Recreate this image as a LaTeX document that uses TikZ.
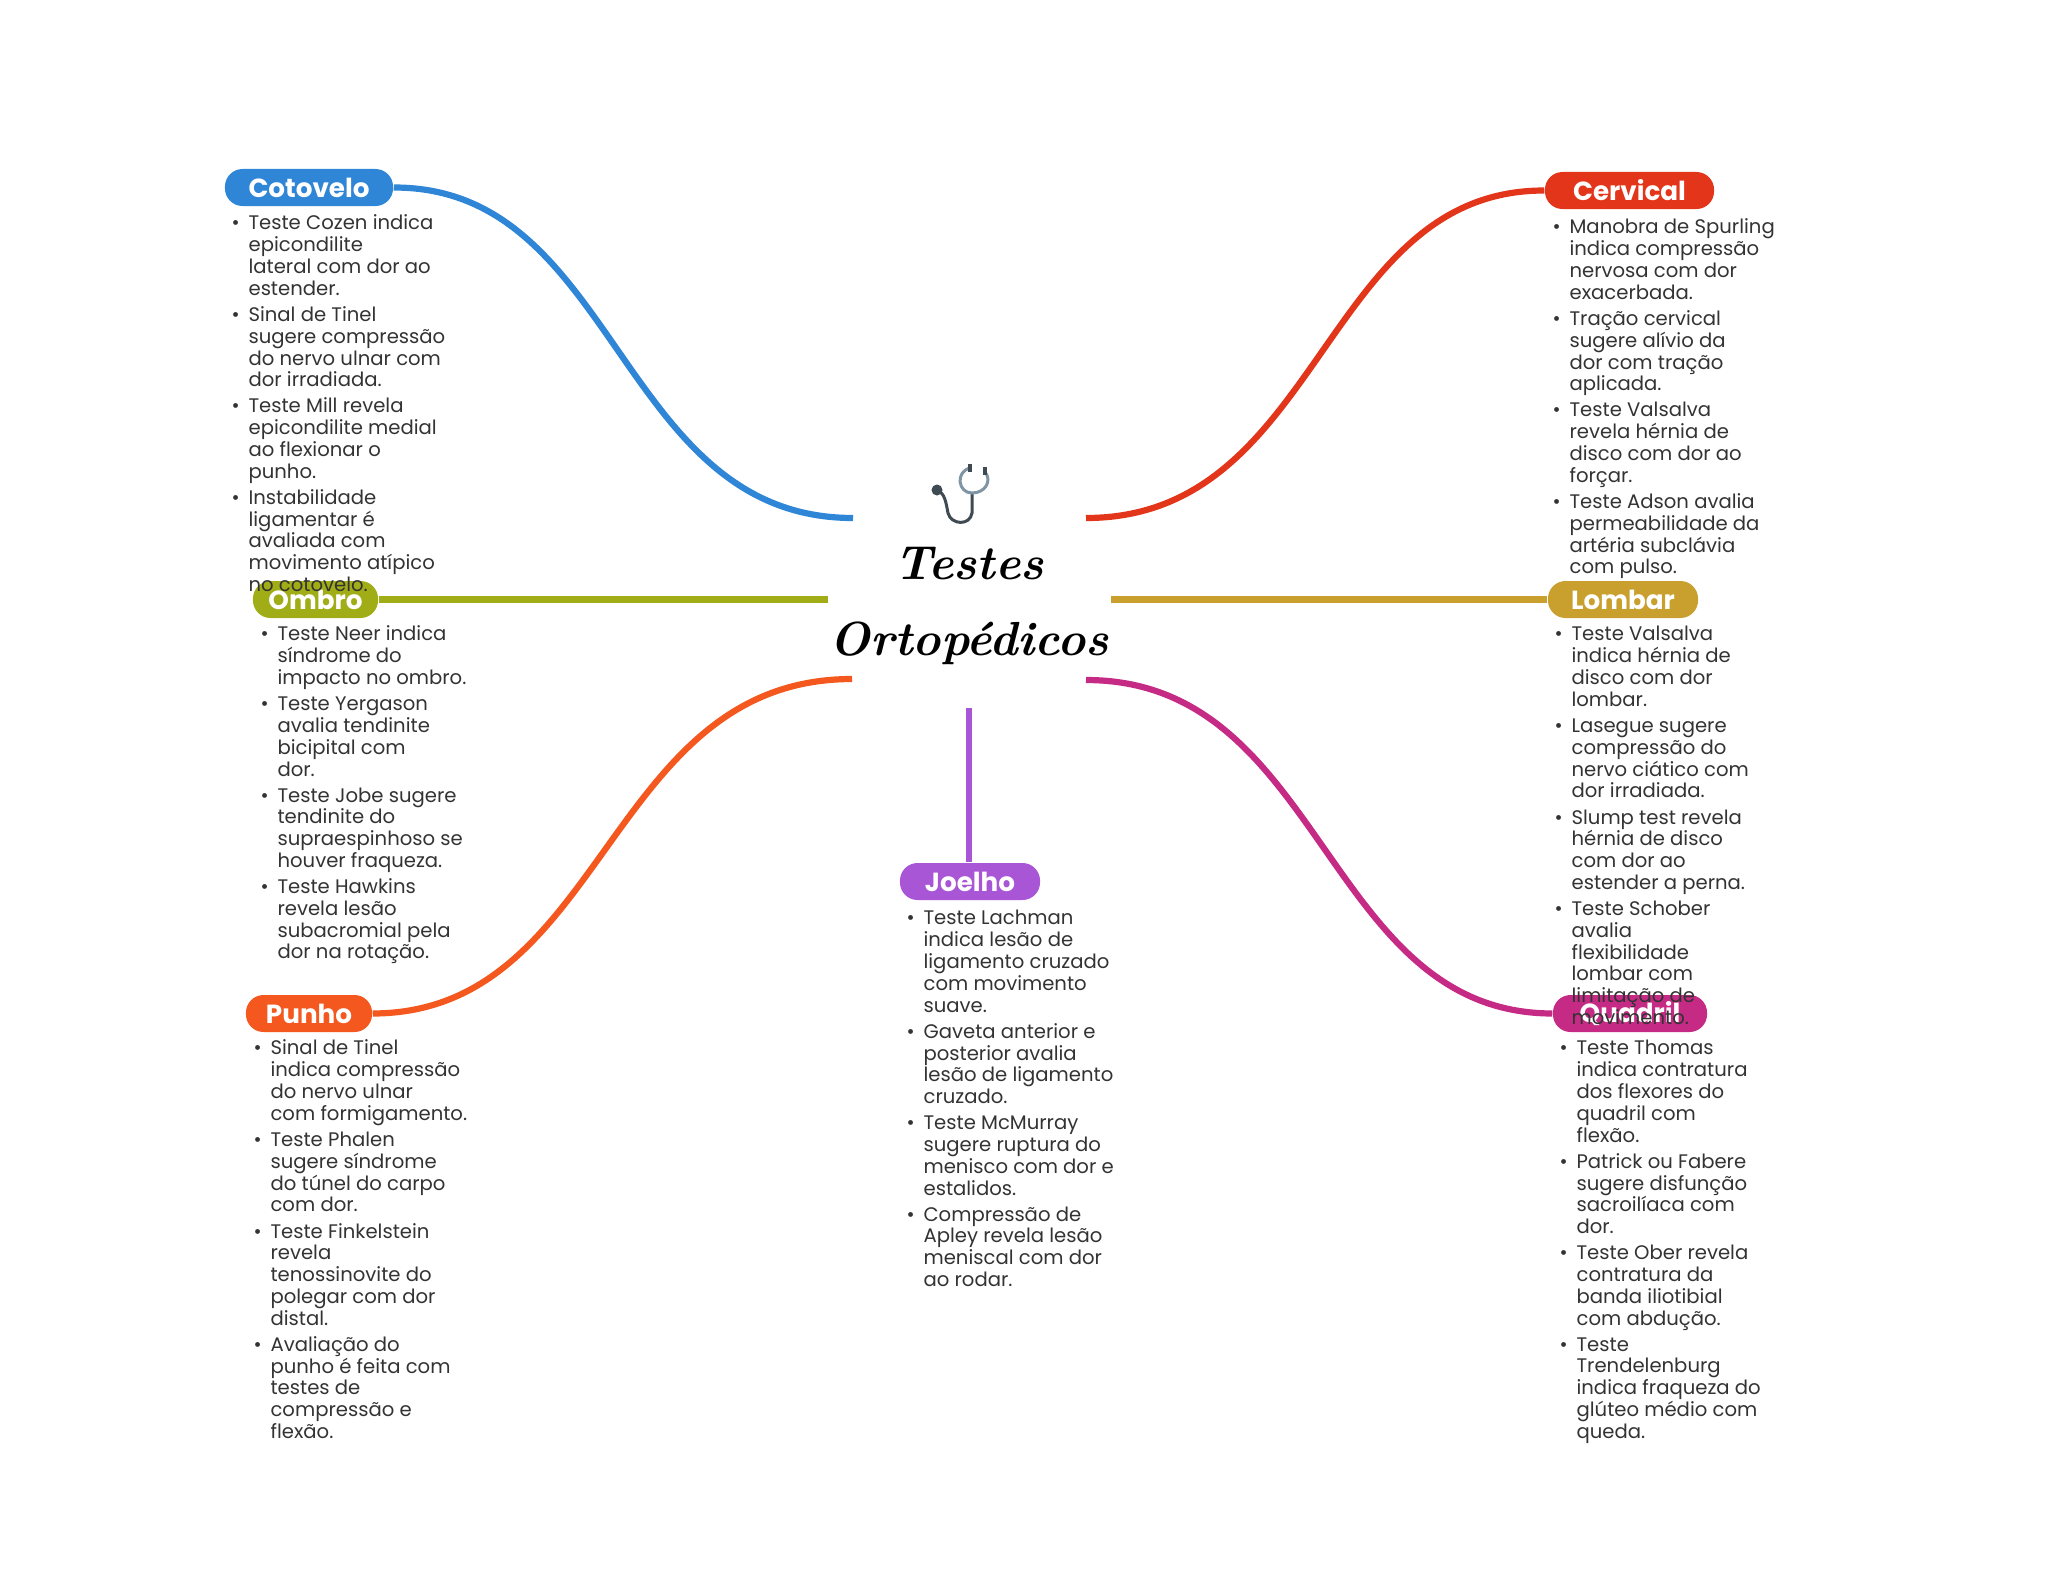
\documentclass[tikz,border=0pt]{standalone}
\usepackage{fontspec}
\newfontfamily\popfont{Poppins}
\usetikzlibrary{positioning}
\definecolor{cotovelocol}{HTML}{2F86D6}
\definecolor{cervicalcol}{HTML}{E2351A}
\definecolor{ombrocol}{HTML}{A0AD17}
\definecolor{lombarcol}{HTML}{C9A02E}
\definecolor{punhocol}{HTML}{F4581E}
\definecolor{quadrilcol}{HTML}{C52A85}
\definecolor{joelhocol}{HTML}{A855D6}
\definecolor{notecol}{HTML}{333333}
\definecolor{tubecol}{HTML}{3F4A52}
\definecolor{loopcol}{HTML}{7F95A3}
\setlength{\lineskip}{0pt}
\newcommand{\itemgap}{1.2pt}
\newcommand{\noteitem}[1]{\makebox[4.8pt][l]{\textbullet}\begin{tabular}[t]{@{}l@{}}#1\end{tabular}}
\tikzset{
  pill/.style={fill=#1, text=white, rounded corners=5pt, minimum height=0.37cm,
    inner sep=0pt, font=\popfont\fontsize{7.45}{9}\selectfont\bfseries},
  branch/.style={draw=#1, line width=0.062cm},
  notes/.style={anchor=north west, inner sep=0pt, align=left, text=notecol,
    font=\popfont\fontsize{5.58}{6.2}\selectfont},
}
\begin{document}
\begin{tikzpicture}[x=0.01cm, y=-0.01cm]
  \useasboundingbox (0,0) rectangle (2048,1569);
  % Free ends of the branches, round the title
  \coordinate (cotoveloend) at (853,518);
  \coordinate (cervicalend) at (1086,518);
  \coordinate (ombroend) at (828,599.5);
  \coordinate (lombarend) at (1111,599.5);
  \coordinate (punhoend) at (852,679);
  \coordinate (quadrilend) at (1086,680);
  \coordinate (joelhoend) at (969,708);
  % Labels on the branches
  \node[pill=cotovelocol, minimum width=1.68cm] (cotovelo) at (309,187.5) {Cotovelo};
  \node[pill=cervicalcol, minimum width=1.69cm] (cervical) at (1629.5,190.5) {Cervical};
  \node[pill=ombrocol, minimum width=1.25cm] (ombro) at (315.5,599.5) {Ombro};
  \node[pill=lombarcol, minimum width=1.50cm] (lombar) at (1623,599.5) {Lombar};
  \node[pill=punhocol, minimum width=1.26cm] (punho) at (309,1013.5) {Punho};
  \node[pill=quadrilcol, minimum width=1.54cm] (quadril) at (1630,1013.5) {Quadril};
  \node[pill=joelhocol, minimum width=1.40cm] (joelho) at (970,881.5) {Joelho};
  % Branches
  \draw[branch=cotovelocol] (cotoveloend) .. controls (618,518) and (618,187) .. (cotovelo.east);
  \draw[branch=cervicalcol] (cervicalend) .. controls (1322,518) and (1322,190) .. (cervical.west);
  \draw[branch=ombrocol] (ombroend) -- (ombro.east);
  \draw[branch=lombarcol] (lombarend) -- (lombar.west);
  \draw[branch=punhocol] (punhoend) .. controls (606,679) and (606,1013) .. (punho.east);
  \draw[branch=quadrilcol] (quadrilend) .. controls (1324,680) and (1324,1013) .. (quadril.west);
  \draw[branch=joelhocol] (joelhoend) -- (joelho.north -| joelhoend);
  % Title and stethoscope
  \node[align=center, font=\fontsize{13.6}{21.8}\selectfont\bfseries\itshape] (title) at (969,606) {Testes\\ Ortopédicos};
  \draw[line width=0.03cm, draw=tubecol] (937,490) .. controls (945,493) and (946,503) .. (948,513)
    .. controls (951,525) and (970,526) .. (972,513) -- (972,493);
  \draw[line width=0.03cm, draw=loopcol] (970,468) .. controls (955,472) and (958,493) .. (972,493)
    .. controls (986,493) and (992,480) .. (985,472);
  \fill[tubecol] (937,490) circle (0.055cm);
  \draw[line width=0.04cm, tubecol] (970,464) -- (970,472) (985,467) -- (985,475);
  % Notes
  \node[notes] (cotovelonotes) at (231,214) {%
    \noteitem{Teste Cozen indica\\epicondilite\\lateral com dor ao\\estender.}\\[\itemgap]
    \noteitem{Sinal de Tinel\\sugere compressão\\do nervo ulnar com\\dor irradiada.}\\[\itemgap]
    \noteitem{Teste Mill revela\\epicondilite medial\\ao flexionar o\\punho.}\\[\itemgap]
    \noteitem{Instabilidade\\ligamentar é\\avaliada com\\movimento atípico\\no cotovelo.}};
  \node[notes] (cervicalnotes) at (1552,218) {%
    \noteitem{Manobra de Spurling\\indica compressão\\nervosa com dor\\exacerbada.}\\[\itemgap]
    \noteitem{Tração cervical\\sugere alívio da\\dor com tração\\aplicada.}\\[\itemgap]
    \noteitem{Teste Valsalva\\revela hérnia de\\disco com dor ao\\forçar.}\\[\itemgap]
    \noteitem{Teste Adson avalia\\permeabilidade da\\artéria subclávia\\com pulso.}};
  \node[notes] (ombronotes) at (260,625) {%
    \noteitem{Teste Neer indica\\síndrome do\\impacto no ombro.}\\[\itemgap]
    \noteitem{Teste Yergason\\avalia tendinite\\bicipital com\\dor.}\\[\itemgap]
    \noteitem{Teste Jobe sugere\\tendinite do\\supraespinhoso se\\houver fraqueza.}\\[\itemgap]
    \noteitem{Teste Hawkins\\revela lesão\\subacromial pela\\dor na rotação.}};
  \node[notes] (lombarnotes) at (1554,625) {%
    \noteitem{Teste Valsalva\\indica hérnia de\\disco com dor\\lombar.}\\[\itemgap]
    \noteitem{Lasegue sugere\\compressão do\\nervo ciático com\\dor irradiada.}\\[\itemgap]
    \noteitem{Slump test revela\\hérnia de disco\\com dor ao\\estender a perna.}\\[\itemgap]
    \noteitem{Teste Schober\\avalia\\flexibilidade\\lombar com\\limitação de\\movimento.}};
  \node[notes] (joelhonotes) at (906,909) {%
    \noteitem{Teste Lachman\\indica lesão de\\ligamento cruzado\\com movimento\\suave.}\\[\itemgap]
    \noteitem{Gaveta anterior e\\posterior avalia\\lesão de ligamento\\cruzado.}\\[\itemgap]
    \noteitem{Teste McMurray\\sugere ruptura do\\menisco com dor e\\estalidos.}\\[\itemgap]
    \noteitem{Compressão de\\Apley revela lesão\\meniscal com dor\\ao rodar.}};
  \node[notes] (punhonotes) at (253,1039) {%
    \noteitem{Sinal de Tinel\\indica compressão\\do nervo ulnar\\com formigamento.}\\[\itemgap]
    \noteitem{Teste Phalen\\sugere síndrome\\do túnel do carpo\\com dor.}\\[\itemgap]
    \noteitem{Teste Finkelstein\\revela\\tenossinovite do\\polegar com dor\\distal.}\\[\itemgap]
    \noteitem{Avaliação do\\punho é feita com\\testes de\\compressão e\\flexão.}};
  \node[notes] (quadrilnotes) at (1559,1039) {%
    \noteitem{Teste Thomas\\indica contratura\\dos flexores do\\quadril com\\flexão.}\\[\itemgap]
    \noteitem{Patrick ou Fabere\\sugere disfunção\\sacroilíaca com\\dor.}\\[\itemgap]
    \noteitem{Teste Ober revela\\contratura da\\banda iliotibial\\com abdução.}\\[\itemgap]
    \noteitem{Teste\\Trendelenburg\\indica fraqueza do\\glúteo médio com\\queda.}};
\end{tikzpicture}
\end{document}
